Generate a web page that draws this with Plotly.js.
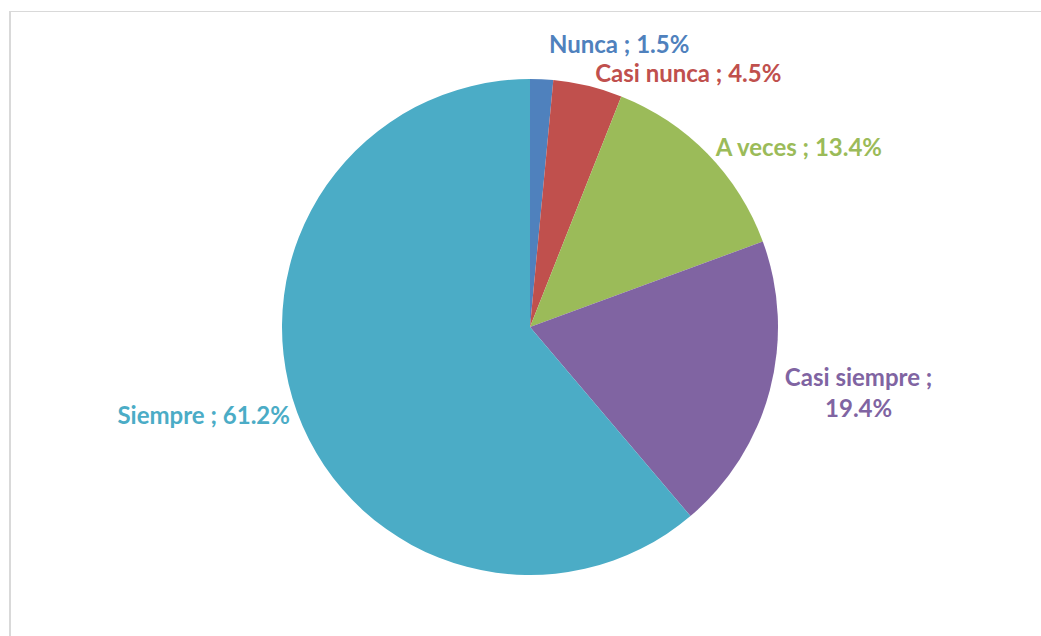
<!DOCTYPE html>
<html>
<head>
<meta charset="utf-8">
<script src="https://cdn.plot.ly/plotly-3.0.1.min.js"></script>
<style>
  html, body { margin: 0; padding: 0; background: #ffffff; overflow: hidden; }
  #chart { position: absolute; left: 0; top: 0; width: 1041px; height: 636px; }
  #chart path.textline { display: none; }
  #frame { position: absolute; left: 9px; top: 11px; width: 1100px; height: 700px;
           border-left: 2px solid #d9d9d9; border-top: 1px solid #d9d9d9; pointer-events: none; }
</style>
</head>
<body>
<div id="chart"></div>
<div id="frame"></div>
<script>
const categories = ["Nunca", "Casi nunca", "A veces", "Casi siempre", "Siempre"];
const percentages = [1.5, 4.5, 13.4, 19.4, 61.2];
const sliceColors = ["#4F81BD", "#C0504D", "#9BBB59", "#8064A2", "#4BACC6"];

const templates = categories.map(c =>
  c === "Casi siempre" ? "%{label} ;<br>%{value:.1f}%" : "%{label} ; %{value:.1f}%");

const trace = {
  type: "pie",
  labels: categories,
  values: percentages,
  sort: false,
  direction: "clockwise",
  rotation: 0,
  marker: { colors: sliceColors, line: { color: "#ffffff", width: 0 } },
  texttemplate: templates,
  textposition: "outside",
  outsidetextfont: { family: "Lato, 'Open Sans', sans-serif", size: 24, color: sliceColors, weight: "bold" },
  hoverinfo: "label+percent",
  automargin: false,
  showlegend: false
};

const layout = {
  width: 1041,
  height: 636,
  margin: { l: 20, r: 1, t: 79, b: 61 },
  paper_bgcolor: "#ffffff",
  plot_bgcolor: "#ffffff",
  showlegend: false
};

Plotly.newPlot("chart", [trace], layout, { displayModeBar: false, staticPlot: true });
</script>
</body>
</html>
